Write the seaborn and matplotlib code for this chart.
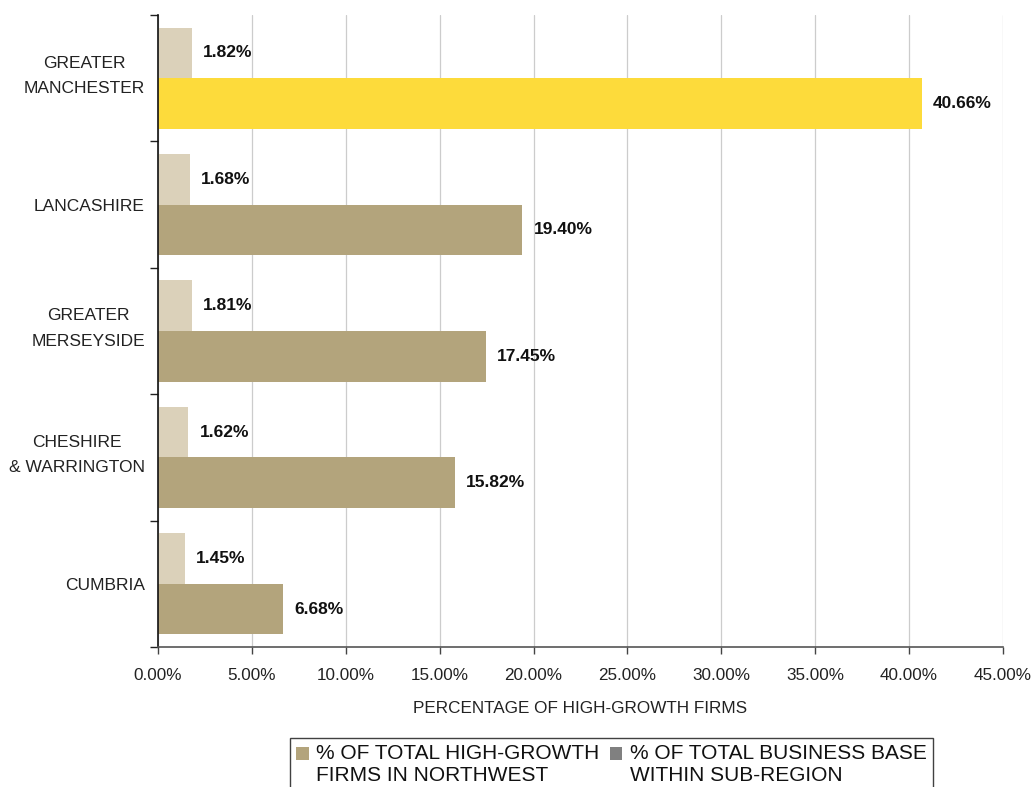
import matplotlib
matplotlib.use("Agg")
import matplotlib.pyplot as plt
import matplotlib.transforms as mtransforms
from matplotlib.patches import Patch, Rectangle
from matplotlib.legend_handler import HandlerPatch
from matplotlib.ticker import MultipleLocator, FuncFormatter
import seaborn as sns
import pandas as pd

# Sub-regions of the North West, top to bottom
regions = ["GREATER\nMANCHESTER", "LANCASHIRE", "GREATER\nMERSEYSIDE",
           "CHESHIRE\n& WARRINGTON", "CUMBRIA"]
# % of the sub-region's business base that is high-growth
share_of_base = [1.82, 1.68, 1.81, 1.62, 1.45]
# % of all North West high-growth firms located in the sub-region
share_of_northwest = [40.66, 19.40, 17.45, 15.82, 6.68]

series_base = "% OF TOTAL BUSINESS BASE\nWITHIN SUB-REGION"
series_nw = "% OF TOTAL HIGH-GROWTH\nFIRMS IN NORTHWEST"

df = pd.DataFrame({
    "region": regions * 2,
    "value": share_of_base + share_of_northwest,
    "series": [series_base] * len(regions) + [series_nw] * len(regions),
})

c_light = "#dbd1ba"
c_tan = "#b3a47c"
c_yellow = "#fddb3b"
c_legend_grey = "#808080"

sns.set_style("white")
plt.rcParams["font.family"] = ["Liberation Sans", "DejaVu Sans"]

fig = plt.figure(figsize=(10.34, 7.87), dpi=100)
ax = fig.add_axes([158 / 1034, 1 - 647 / 787, (1003 - 158) / 1034, (647 - 15) / 787])

sns.barplot(data=df, y="region", x="value", hue="series",
            hue_order=[series_base, series_nw], order=regions,
            palette=[c_light, c_tan], orient="h", width=0.8,
            saturation=1, legend=False, linewidth=0, ax=ax)

# Highlight the largest share
nw_container = ax.containers[1]
nw_container.patches[0].set_facecolor(c_yellow)

for cont in ax.containers:
    for bar in cont.patches:
        w = bar.get_width()
        ax.annotate(f"{w:.2f}%", (w, bar.get_y() + bar.get_height() / 2),
                    xytext=(8, 0), textcoords="offset points",
                    ha="left", va="center", fontsize=12.5, fontweight="bold",
                    color="#111111")

ax.set_xlim(0, 45)
ax.set_ylim(len(regions) - 0.5, -0.5)
ax.xaxis.set_major_locator(MultipleLocator(5))
ax.xaxis.set_major_formatter(FuncFormatter(lambda v, p: f"{v:.2f}%"))
ax.grid(axis="x", color="#cccccc", linewidth=0.9)
ax.set_axisbelow(True)

# Category labels centred, ticks drawn at the category boundaries
ax.set_yticks(range(len(regions)))
ax.set_yticklabels(regions, fontsize=12.5, color="#222222")
ax.tick_params(axis="y", which="major", length=0, pad=9.5)
ax.set_yticks([i - 0.5 for i in range(len(regions) + 1)], minor=True)
ax.tick_params(axis="y", which="minor", length=6, width=1, color="#222222",
               direction="out", left=True)
ax.tick_params(axis="x", which="major", length=5, width=1, color="#444444",
               direction="out", bottom=True, labelsize=12.3, labelcolor="#222222",
               pad=10)

lift = mtransforms.ScaledTranslation(0, 6.5 / 72, fig.dpi_scale_trans)
for lbl in ax.get_yticklabels():
    lbl.set_multialignment("center")
    lbl.set_linespacing(1.85)
    if "\n" in lbl.get_text():
        lbl.set_transform(lbl.get_transform() + lift)

ax.set_xlabel("PERCENTAGE OF HIGH-GROWTH FIRMS", fontsize=12.3, color="#222222",
              labelpad=13)
ax.set_ylabel("")

for s in ["top", "right"]:
    ax.spines[s].set_visible(False)
ax.spines["left"].set_color("#111111")
ax.spines["left"].set_linewidth(1.2)
ax.spines["bottom"].set_color("#555555")
ax.spines["bottom"].set_linewidth(1.2)


def first_line_square(legend, orig_handle, xdescent, ydescent, width, height, fontsize):
    # swatch sits beside the first line of a two-line label
    return Rectangle((-xdescent, -ydescent + 8), width, height)


handles = [Patch(facecolor=c_tan, edgecolor="none", label=series_nw),
           Patch(facecolor=c_legend_grey, edgecolor="none", label=series_base)]
leg = fig.legend(handles=handles, loc="upper left",
                 bbox_to_anchor=(290 / 1034, 1 - 738 / 787), ncol=2,
                 fontsize=15, frameon=True, fancybox=False, borderpad=0.3,
                 handlelength=0.6, handleheight=0.6, handletextpad=0.35,
                 columnspacing=0.5, borderaxespad=0,
                 handler_map={Patch: HandlerPatch(patch_func=first_line_square)})
leg.get_frame().set_edgecolor("#111111")
leg.get_frame().set_linewidth(1.0)
for t in leg.get_texts():
    t.set_color("#111111")

fig.savefig("out.png", dpi=100)
